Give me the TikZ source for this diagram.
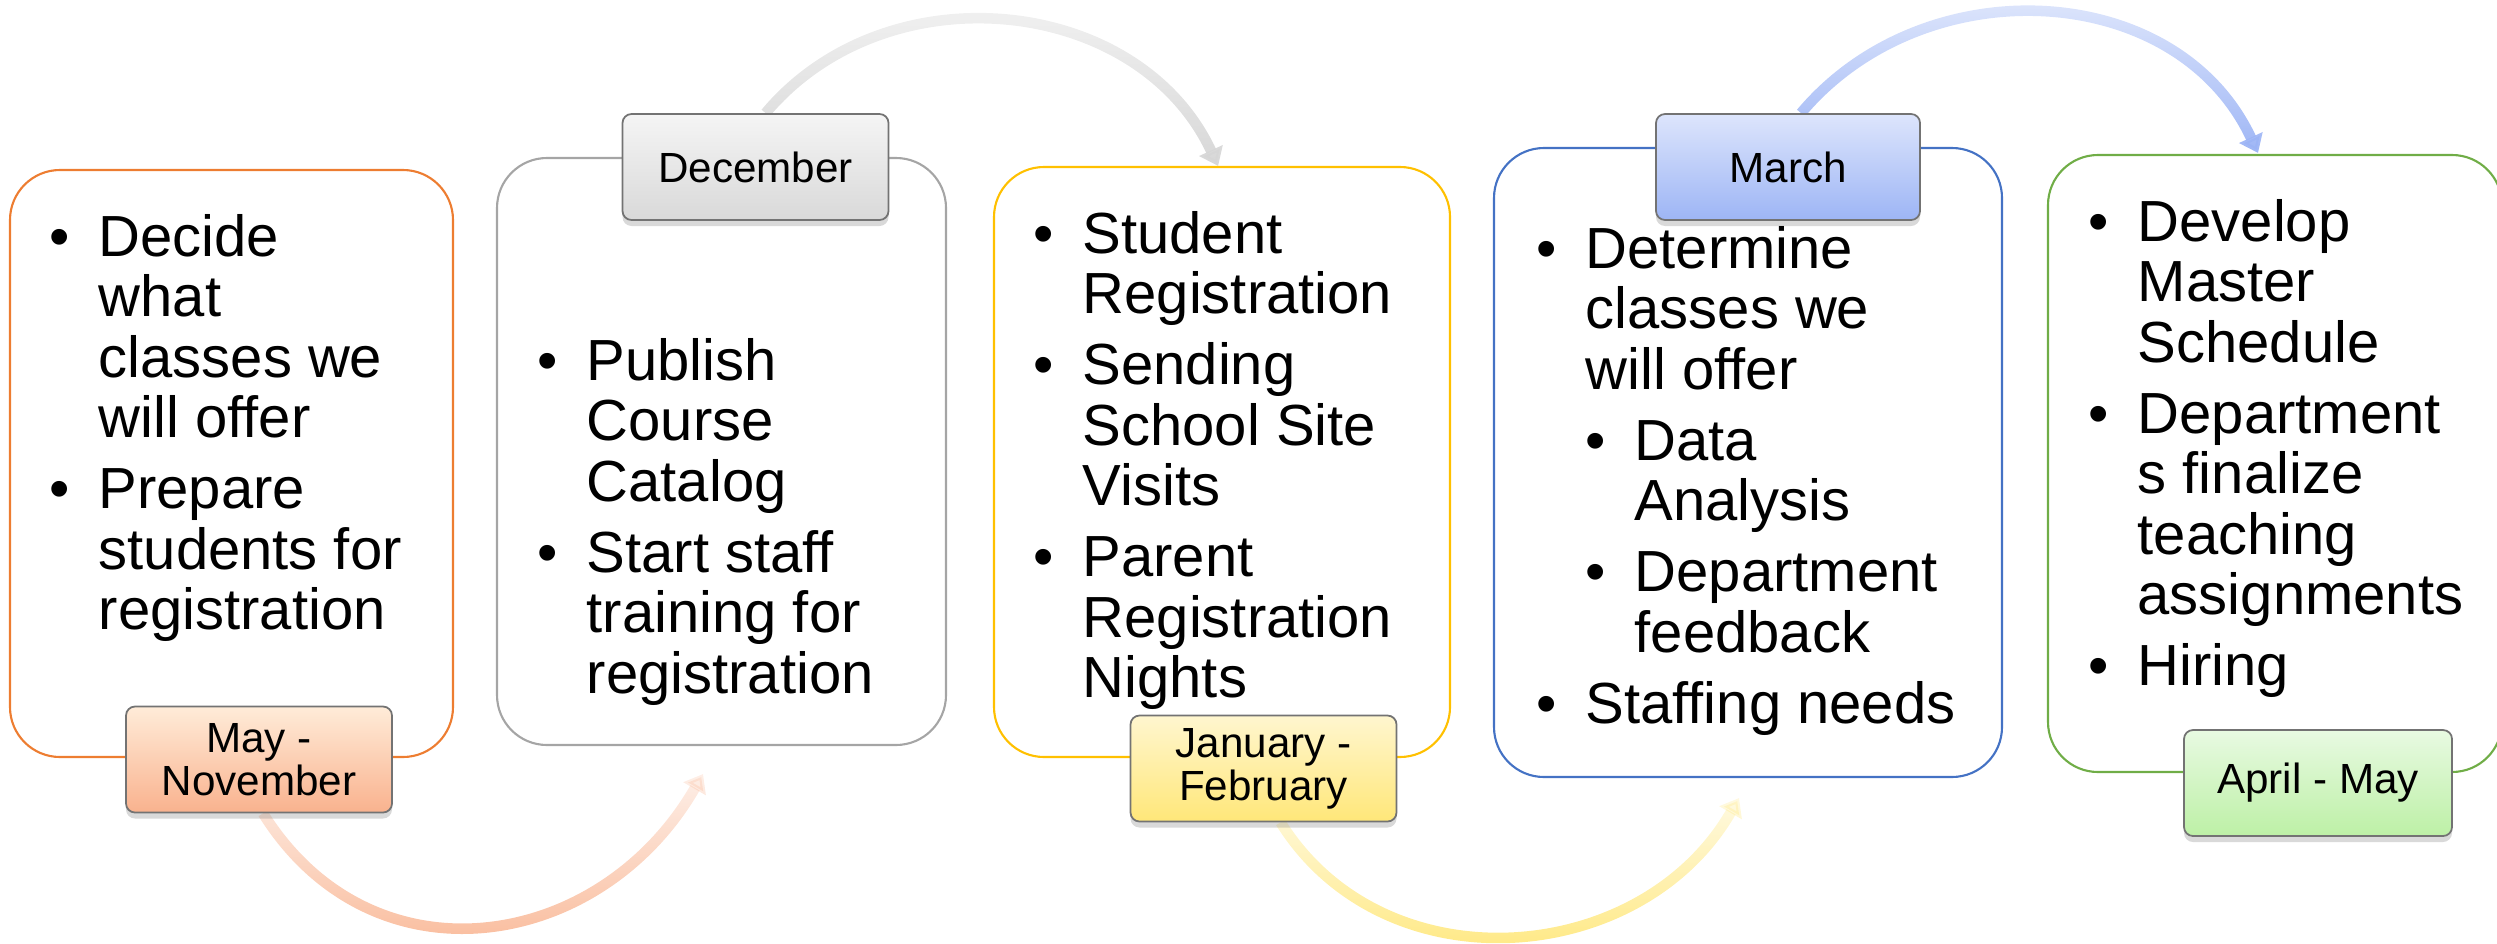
\documentclass[tikz,border=0pt]{standalone}
\usepackage{fontspec}
\setmainfont{Liberation Sans}
\usetikzlibrary{positioning}
\usetikzlibrary{arrows.meta,shadows,backgrounds,fadings}

\definecolor{boxorange}{HTML}{ED7D31}
\definecolor{boxgray}{HTML}{A5A5A5}
\definecolor{boxgold}{HTML}{FFC000}
\definecolor{boxblue}{HTML}{4472C4}
\definecolor{boxgreen}{HTML}{70AD47}
\definecolor{arroworange}{HTML}{F8AE88}
\definecolor{arrowgray}{HTML}{D6D6D6}
\definecolor{arrowgold}{HTML}{FFE46A}
\definecolor{arrowblue}{HTML}{9CB4F5}

\tikzfading[name=arcfade, top color=transparent!82, bottom color=transparent!0]

\newcommand{\bul}{\strut\makebox[0.49cm][l]{\textbullet}}
\newcommand{\ind}{\hspace*{0.49cm}}

\begin{document}
\begin{tikzpicture}

\tikzset{
    box/.style={draw, line width=0.6pt, rounded corners=0.5cm},
    month/.style={draw=black!55, line width=0.5pt, rounded corners=0.09cm,
        minimum width=2.66cm, minimum height=1.06cm, inner sep=0pt,
        align=center, font=\fontsize{12}{12.2}\selectfont,
        drop shadow={shadow xshift=0pt, shadow yshift=-0.06cm, opacity=0.3}},
    items/.style={anchor=north west, inner sep=0pt, align=left,
        font=\fontsize{16.5}{17.2}\selectfont},
    edge/.style={-{Triangle[length=0.17cm,width=0.25cm]}, line width=3pt,
        path fading=arcfade}
}
% variables
\def\boxh{5.87}
\def\labw{2.66}

\useasboundingbox (0,0) rectangle (24.97,-9.44);

% ----------- boxes ----------- %
\node[box, draw=boxorange, minimum width=4.43cm, minimum height=\boxh cm] (box1) at (2.315,-4.635) {};
\node[box, draw=boxgray, minimum width=4.49cm, minimum height=\boxh cm] (box2) at (7.215,-4.515) {};
\node[box, draw=boxgold, minimum width=4.56cm, minimum height=5.90cm] (box3) at (12.22,-4.62) {};
\node[box, draw=boxblue, minimum width=5.08cm, minimum height=6.29cm] (box4) at (17.48,-4.625) {};
\node[box, draw=boxgreen, minimum width=4.54cm, minimum height=6.17cm] (box5) at (22.75,-4.635) {};

% ----------- months ----------- %
\node[month, top color=orange!15!white, bottom color={rgb,255:red,249;green,178;blue,142}] (lab1) at (2.59,-7.595) {May -\\November};
\node[month, top color=black!4, bottom color=black!15] (lab2) at (7.555,-1.67) {December};
\node[month, top color={rgb,255:red,255;green,246;blue,207}, bottom color={rgb,255:red,255;green,231;blue,121}] (lab3) at (12.635,-7.685) {January -\\February};
\node[month, minimum width=2.64cm, top color={rgb,255:red,221;green,229;blue,252}, bottom color={rgb,255:red,157;green,181;blue,245}] (lab4) at (17.88,-1.67) {March};
\node[month, minimum width=2.68cm, top color={rgb,255:red,232;green,250;blue,226}, bottom color={rgb,255:red,189;green,240;blue,166}] (lab5) at (23.18,-7.83) {April - May};

% ----------- texts ----------- %
\node[items] (t1) at (0.49,-2.135) {\bul Decide\\ \ind what\\ \ind classes we\\ \ind will offer\\[3pt]
    \bul Prepare\\ \ind students for\\ \ind registration};
\node[items] (t2) at (5.37,-3.375) {\bul Publish\\ \ind Course\\ \ind Catalog\\[3pt]
    \bul Start staff\\ \ind training for\\ \ind registration};
\node[items] (t3) at (10.33,-2.105) {\bul Student\\ \ind Registration\\[3pt]
    \bul Sending\\ \ind School Site\\ \ind Visits\\[3pt]
    \bul Parent\\ \ind Registration\\ \ind Nights};
\node[items] (t4) at (15.36,-2.255) {\bul Determine\\ \ind classes we\\ \ind will offer\\[3pt]
    \ind\bul Data\\ \ind\ind Analysis\\[3pt]
    \ind\bul Department\\ \ind\ind feedback\\[3pt]
    \bul Staffing needs};
\node[items] (t5) at (20.88,-1.985) {\bul Develop\\ \ind Master\\ \ind Schedule\\[3pt]
    \bul Department\\ \ind s finalize\\ \ind teaching\\ \ind assignments\\[3pt]
    \bul Hiring};

% ----------- arrows ----------- %
\coordinate (h1) at ([xshift=-0.185cm,yshift=-0.28cm]box2.south);
\coordinate (h2) at ([xshift=-0.04cm]box3.north);
\coordinate (h3) at ([xshift=-0.09cm,yshift=-0.20cm]box4.south);
\coordinate (h4) at ([xshift=-0.17cm,yshift=0.01cm]box5.north);

\begin{scope}[on background layer]
\draw[edge, draw=arroworange] ([xshift=0.04cm]lab1.south) to[out=-58, in=-120, looseness=1.19] (h1);
\draw[edge, draw=arrowgray] ([xshift=0.1cm]lab2.north) to[out=50, in=115, looseness=1.06] (h2);
\draw[edge, draw=arrowgold] ([xshift=0.17cm]lab3.south) to[out=-58, in=-120, looseness=1.09] (h3);
\draw[edge, draw=arrowblue] ([xshift=0.13cm]lab4.north) to[out=50, in=115, looseness=1.07] (h4);
\end{scope}

\end{tikzpicture}
\end{document}
